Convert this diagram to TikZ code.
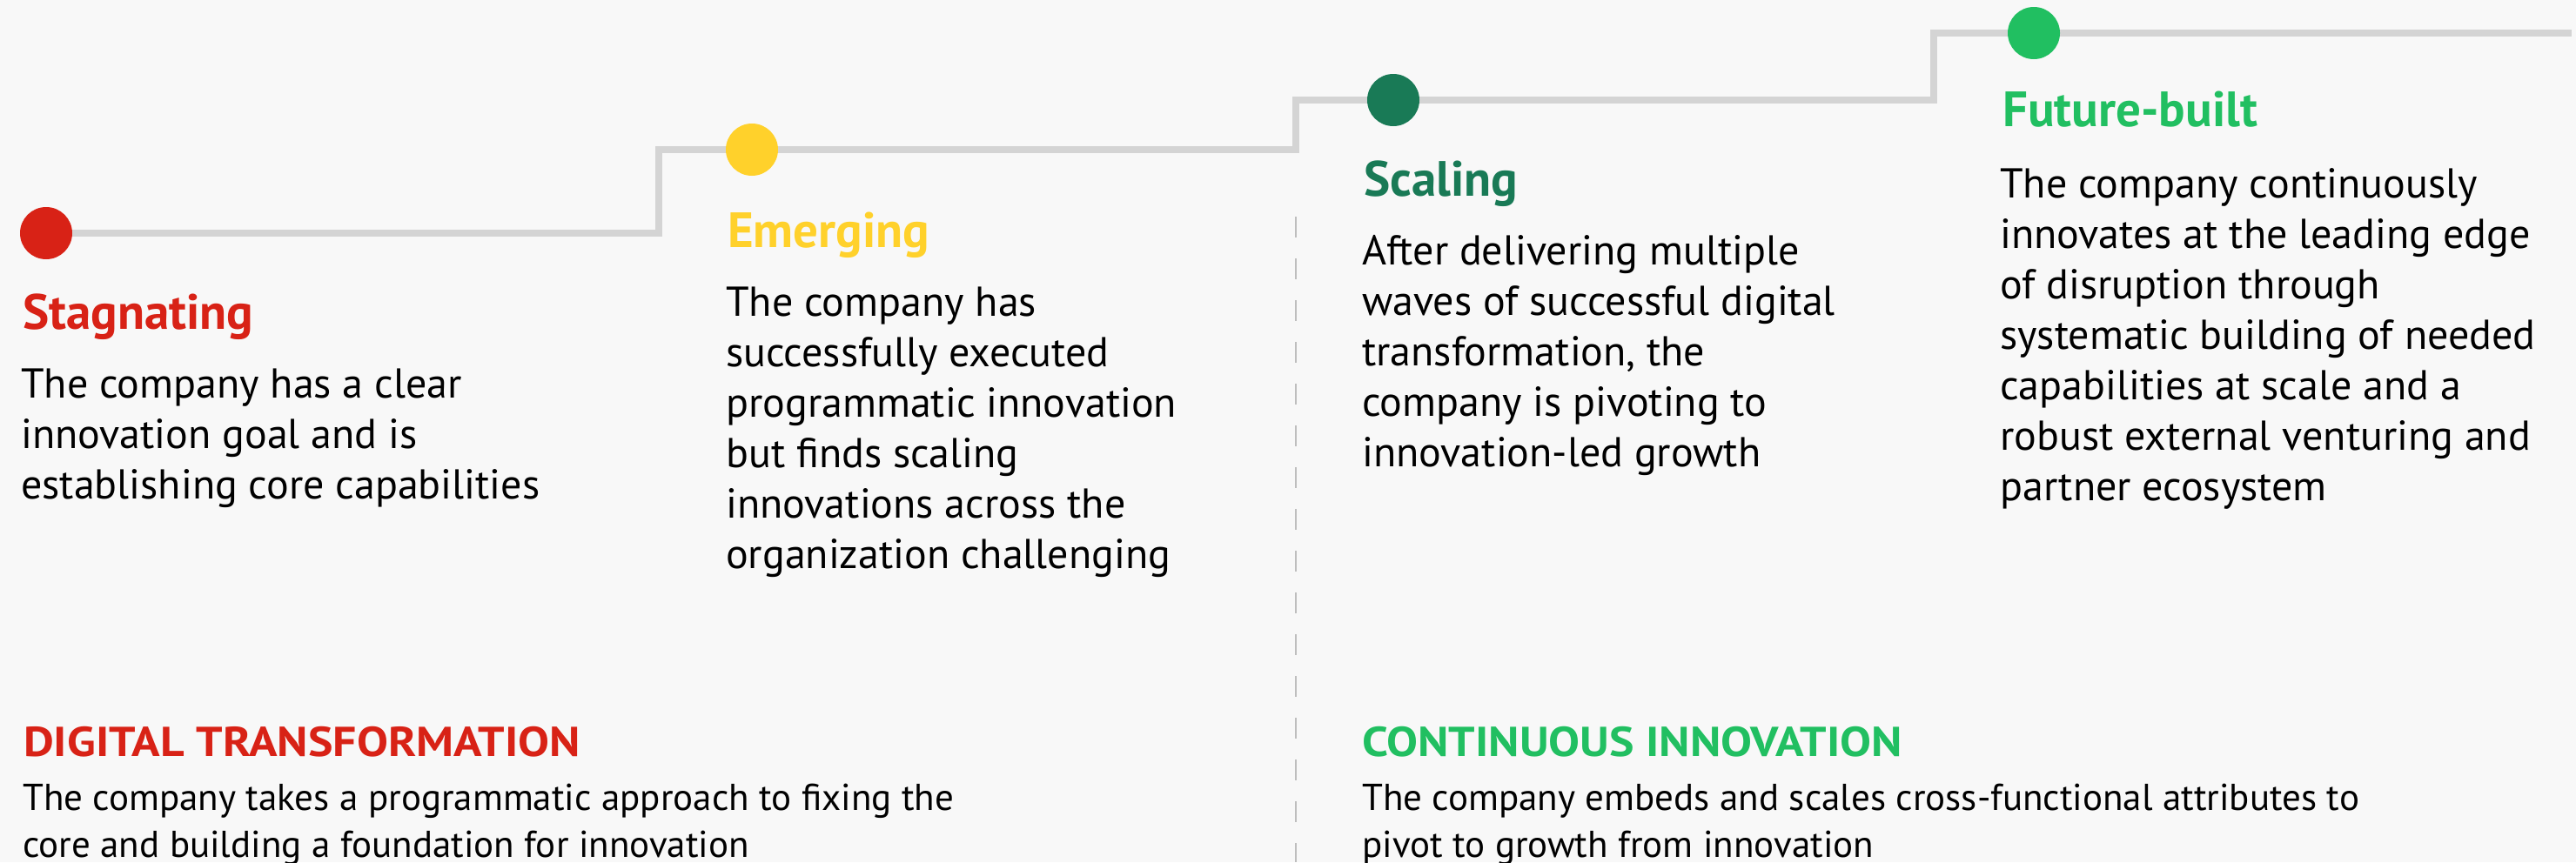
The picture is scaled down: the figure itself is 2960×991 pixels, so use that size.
\documentclass[tikz,border=0pt]{standalone}
\usepackage{fontspec}
\setmainfont{PT Sans}
\definecolor{bg}{HTML}{F8F8F8}
\definecolor{trackgray}{HTML}{D4D4D4}
\definecolor{dashgray}{HTML}{BEBEBE}
\definecolor{bcgred}{HTML}{D82216}
\definecolor{bcgyellow}{HTML}{FFD12B}
\definecolor{bcgdark}{HTML}{197A56}
\definecolor{bcggreen}{HTML}{21BF61}
\pgfdeclarelayer{back}
\pgfsetlayers{back,main}
\tikzset{
  dot/.style={circle, inner sep=0pt, minimum size=60pt, fill=#1},
  track/.style={draw=trackgray, line width=8pt, line join=miter},
  divider/.style={draw=dashgray, line width=2.5pt, dash pattern=on 24pt off 24pt},
  stagetitle/.style={anchor=base west, inner sep=0pt, text=#1,
    font=\fontsize{57}{60}\selectfont\bfseries},
  % multi-line nodes are placed by the baseline of their last line
  stagebody/.style={anchor=base west, inner sep=0pt, align=left,
    font=\fontsize{48}{58}\selectfont},
  phasetitle/.style={anchor=base west, inner sep=0pt, text=#1,
    font=\fontsize{48}{54}\selectfont\bfseries\addfontfeature{FakeStretch=1.12}},
  phasebody/.style={anchor=base west, inner sep=0pt, align=left,
    font=\fontsize{43}{54}\selectfont},
}
\begin{document}
\begin{tikzpicture}[x=1pt,y=-1pt]
\useasboundingbox (0,0) rectangle (2960,991);

% stage markers
\node[dot=bcgred]    (d1) at (53,268) {};
\node[dot=bcgyellow] (d2) at (864,172) {};
\node[dot=bcgdark]   (d3) at (1601,115) {};
\node[dot=bcggreen]  (d4) at (2337,38) {};
\coordinate (tend) at (2955,38);
\coordinate (s1) at (757,172);
\coordinate (s2) at (1489,115);
\coordinate (s3) at (2222,38);
\coordinate (divtop) at (1489,249);
\coordinate (divbot) at (1489,991);

\begin{pgfonlayer}{back}
  \fill[bg] (0,0) rectangle (2960,991);
  \draw[track] (d1.center) -| (s1) -- (d2.center) -| (s2) -- (d3.center) -| (s3) -- (d4.center) -- (tend);
  \draw[divider] (divtop) -- (divbot);
\end{pgfonlayer}

% stage descriptions
\node[stagetitle=bcgred] (t1) at (26,378) {Stagnating};
\node[stagebody] (b1) at (24,573) {The company has a clear\\innovation goal and is\\establishing core capabilities};

\node[stagetitle=bcgyellow] (t2) at (836,284) {Emerging};
\node[stagebody] (b2) at (834,653) {The company has\\successfully executed\\programmatic innovation\\but finds scaling\\innovations across the\\organization challenging};

\node[stagetitle=bcgdark] (t3) at (1567,225) {Scaling};
\node[stagebody] (b3) at (1565,536) {After delivering multiple\\waves of successful digital\\transformation, the\\company is pivoting to\\innovation-led growth};

\node[stagetitle=bcggreen] (t4) at (2301,145) {Future-built};
\node[stagebody] (b4) at (2298,575) {The company continuously\\innovates at the leading edge\\of disruption through\\systematic building of needed\\capabilities at scale and a\\robust external venturing and\\partner ecosystem};

% phases
\node[phasetitle=bcgred] (p1) at (27,869) {DIGITAL TRANSFORMATION};
\node[phasebody] (pb1) at (26,985) {The company takes a programmatic approach to fixing the\\core and building a foundation for innovation};

\node[phasetitle=bcggreen] (p2) at (1565,869) {CONTINUOUS INNOVATION};
\node[phasebody] (pb2) at (1565,985) {The company embeds and scales cross-functional attributes to\\pivot to growth from innovation};
\end{tikzpicture}
\end{document}
